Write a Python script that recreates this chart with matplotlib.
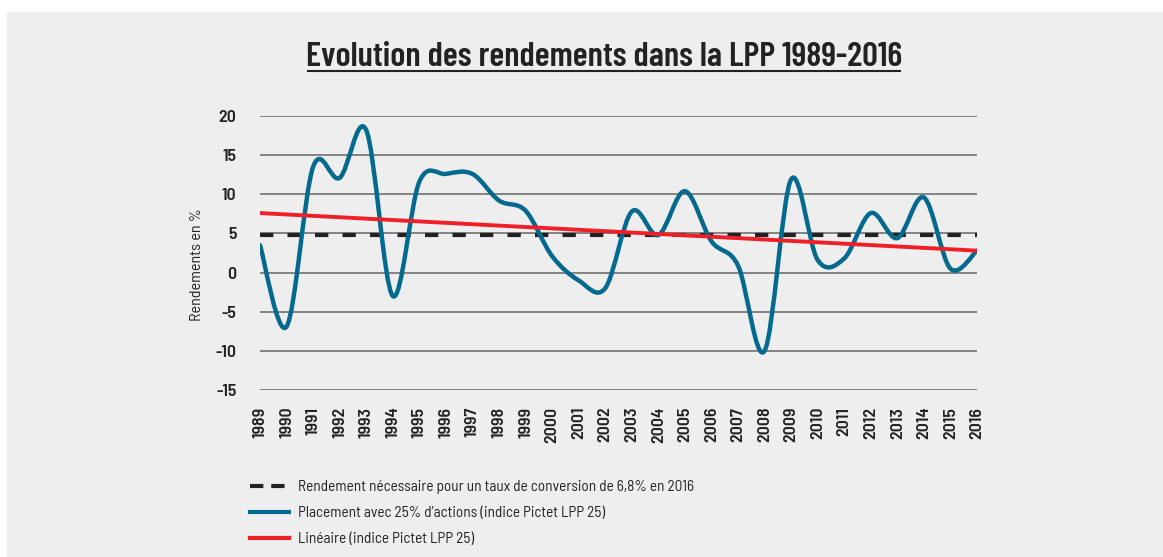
import numpy as np
import matplotlib
matplotlib.use("Agg")
import matplotlib.pyplot as plt
from matplotlib.path import Path
from matplotlib.patches import PathPatch, Rectangle
from matplotlib.lines import Line2D

FONT = ["Barlow Semi Condensed", "DejaVu Sans"]
FONT_TITLE = ["Barlow Condensed", "DejaVu Sans"]
plt.rcParams["font.family"] = FONT

# ---------------- data ----------------
years = [str(y) for y in range(1989, 2017)]
placement = [3.5, -6.9, 13.5, 12.1, 18.2, -3.0, 11.6, 12.6, 12.6, 9.2, 7.9, 2.1,
             -1.0, -2.0, 7.8, 4.8, 10.4, 4.0, 0.9, -10.0, 11.9, 1.6, 1.8, 7.6,
             4.4, 9.6, 0.5, 2.8]
required_rate = 4.8
trend_years = ["1989", "2016"]
trend_values = [7.6, 2.8]

title = "Evolution des rendements dans la LPP 1989-2016"
ylabel = "Rendements en %"
yticks = [20, 15, 10, 5, 0, -5, -10, -15]
legend_labels = ["Rendement nécessaire pour un taux de conversion de 6,8% en 2016",
                 "Placement avec 25% d\u2019actions (indice Pictet LPP 25)",
                 "Linéaire (indice Pictet LPP 25)"]

# ---------------- style ----------------
BG = "#eeeeee"
BLUE = "#006a8e"
RED = "#ee1f26"
BLACK = "#222222"
GRID = "#7a7a7a"
TXT = "#222222"

W, H = 1163, 557
fig = plt.figure(figsize=(W / 100, H / 100), dpi=100)
fig.patch.set_facecolor("white")
fig.patches.append(Rectangle((7 / W, 0), 1, 1 - 12 / H, transform=fig.transFigure,
                             facecolor=BG, edgecolor="none", zorder=-10))

ax = fig.add_axes([260 / W, 1 - 390 / H, 717 / W, 274 / H])
ax.patch.set_alpha(0)

x = np.arange(len(years))
ax.set_xlim(0, len(years) - 1)
ax.set_ylim(-15, 20)

# grid
for v in yticks:
    ax.axhline(v, color=GRID, lw=1.3, zorder=1)
for s in ax.spines.values():
    s.set_visible(False)

# required rate dashed line
ax.plot([0, len(years) - 1], [required_rate, required_rate], color=BLACK, lw=3.0,
        dashes=(3.2, 3.4), solid_capstyle="butt", dash_capstyle="butt", zorder=2)

# smooth curve through points (Excel-style Bezier)
pts = np.column_stack([x, placement]).astype(float)
n = len(pts)
verts = [pts[0]]
codes = [Path.MOVETO]
for i in range(n - 1):
    p0 = pts[i - 1] if i > 0 else pts[i]
    p1 = pts[i]
    p2 = pts[i + 1]
    p3 = pts[i + 2] if i + 2 < n else pts[i + 1]
    c1 = p1 + (p2 - p0) / 6.0
    c2 = p2 - (p3 - p1) / 6.0
    verts += [c1, c2, p2]
    codes += [Path.CURVE4] * 3
path = Path(verts, codes)
ax.add_patch(PathPatch(path, facecolor="none", edgecolor=BLUE, lw=3.2,
                       capstyle="round", joinstyle="round", zorder=3))

# linear trend
tx = [years.index(t) for t in trend_years]
ax.plot(tx, trend_values, color=RED, lw=2.8, solid_capstyle="butt", zorder=4)

# ticks
ax.set_yticks(yticks)
ax.set_yticklabels([str(v) for v in yticks], fontsize=12.8, fontweight=600, color=TXT)
ax.set_xticks(x)
ax.set_xticklabels(years, rotation=90, fontsize=12.8, fontweight=600, color=TXT)
ax.tick_params(axis="y", length=0, pad=17)
ax.tick_params(axis="x", length=0, pad=12)

fig.text(197 / W, 1 - 265 / H, ylabel, rotation=90, ha="center", va="center",
         fontsize=11.5, color=TXT)

# title
fig.text(604 / W, 1 - 66 / H, title, ha="center", va="baseline", fontsize=25,
         fontweight=600, color=TXT, family=FONT_TITLE)
fig.add_artist(Line2D([308 / W, 900 / W], [1 - 71 / H, 1 - 71 / H], color=TXT, lw=1.5))

# legend
handles = [Line2D([], [], color=BLACK, lw=3.0, dashes=(3.2, 1.9), dash_capstyle="butt"),
           Line2D([], [], color=BLUE, lw=3.0),
           Line2D([], [], color=RED, lw=3.0)]
fig.legend(handles, legend_labels, loc="upper left", bbox_to_anchor=(250 / W, 1 - 480 / H),
           frameon=False, fontsize=11, handlelength=2.55, handletextpad=0.6,
           labelspacing=0.8, borderpad=0, borderaxespad=0, labelcolor=TXT)

fig.savefig("out.png", dpi=100, facecolor=fig.get_facecolor())
